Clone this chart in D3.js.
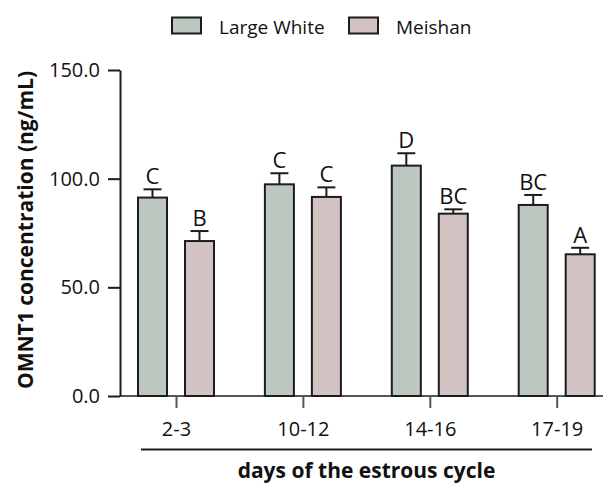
<!DOCTYPE html>
<html><head><meta charset="utf-8">
<script src="https://cdn.jsdelivr.net/npm/d3@7"></script>
<style>
html,body{margin:0;padding:0;background:#fff;}
svg{display:block;font-family:"Open Sans",sans-serif;}
</style></head>
<body>
<svg id="chart" width="606" height="483"></svg>
<script>
const categories = ["2-3", "10-12", "14-16", "17-19"];
const seriesNames = ["Large White", "Meishan"];
const largeWhite = [91.3, 97.4, 106.0, 87.9];
const largeWhiteErr = [3.8, 5.1, 5.7, 4.6];
const meishan = [71.3, 91.6, 83.9, 65.2];
const meishanErr = [4.6, 4.4, 2.0, 3.0];
const largeWhiteLetters = ["C", "C", "D", "BC"];
const meishanLetters = ["B", "C", "BC", "A"];
const yTicks = [0, 50, 100, 150];
const colors = {"Large White": "#bcc8bf", "Meishan": "#d3c2c2"};

const svg = d3.select("#chart");
const y = d3.scaleLinear().domain([0, 150]).range([396, 70]);
const x = d3.scalePoint().domain(categories).range([176, 556.7]);
const xs = d3.scaleBand().domain(seriesNames).range([-39, 39]).paddingInner(0.34);

const rows = [];
categories.forEach((c, i) => {
  rows.push({cat: c, s: "Large White", v: largeWhite[i], e: largeWhiteErr[i], l: largeWhiteLetters[i]});
  rows.push({cat: c, s: "Meishan", v: meishan[i], e: meishanErr[i], l: meishanLetters[i]});
});

// x baseline
svg.append("line").attr("x1", 120).attr("x2", 603).attr("y1", y(0)).attr("y2", y(0))
  .attr("stroke", "#555").attr("stroke-width", 2);

// bars
const g = svg.append("g");
const bw = xs.bandwidth();
g.selectAll("rect.bar").data(rows).join("rect").attr("class", "bar")
  .attr("x", d => x(d.cat) + xs(d.s) + 1)
  .attr("y", d => y(d.v))
  .attr("width", bw - 2)
  .attr("height", d => y(0) - y(d.v))
  .attr("fill", d => colors[d.s])
  .attr("stroke", "#1c1c1c").attr("stroke-width", 2);

// error bars
g.selectAll("line.err").data(rows).join("line").attr("class", "err")
  .attr("x1", d => x(d.cat) + xs(d.s) + bw / 2)
  .attr("x2", d => x(d.cat) + xs(d.s) + bw / 2)
  .attr("y1", d => y(d.v)).attr("y2", d => y(d.v + d.e))
  .attr("stroke", "#1c1c1c").attr("stroke-width", 2);
g.selectAll("line.cap").data(rows).join("line").attr("class", "cap")
  .attr("x1", d => x(d.cat) + xs(d.s) + bw / 2 - 9)
  .attr("x2", d => x(d.cat) + xs(d.s) + bw / 2 + 9)
  .attr("y1", d => y(d.v + d.e)).attr("y2", d => y(d.v + d.e))
  .attr("stroke", "#1c1c1c").attr("stroke-width", 2);
g.selectAll("text.sig").data(rows).join("text").attr("class", "sig")
  .attr("x", d => x(d.cat) + xs(d.s) + bw / 2)
  .attr("y", d => y(d.v + d.e) - 5)
  .attr("text-anchor", "middle").attr("font-size", 22).attr("fill", "#111")
  .text(d => d.l);

// y axis
const yAxis = svg.append("g").attr("transform", "translate(120,0)")
  .call(d3.axisLeft(y).tickValues(yTicks).tickFormat(d3.format(".1f")).tickSize(12).tickSizeOuter(0).tickPadding(8));
yAxis.select(".domain").attr("stroke", "#1c1c1c").attr("stroke-width", 2);
yAxis.selectAll(".tick line").attr("stroke", "#1c1c1c").attr("stroke-width", 2);
yAxis.selectAll(".tick text").attr("font-size", 20).attr("fill", "#111").attr("font-family", "Open Sans");

// x axis ticks
const xAxis = svg.append("g").attr("transform", `translate(0,${y(0)})`)
  .call(d3.axisBottom(x).tickSize(12).tickPadding(14));
xAxis.select(".domain").remove();
xAxis.selectAll(".tick line").attr("stroke", "#555").attr("stroke-width", 2);
xAxis.selectAll(".tick text").attr("font-size", 20).attr("fill", "#111").attr("font-family", "Open Sans");

// underline
svg.append("line").attr("x1", 141).attr("x2", 592).attr("y1", 449.5).attr("y2", 449.5)
  .attr("stroke", "#1c1c1c").attr("stroke-width", 2);

// axis titles
svg.append("text").attr("transform", "translate(25,230) rotate(-90)")
  .attr("text-anchor", "middle").attr("dominant-baseline", "central")
  .attr("font-size", 21).attr("font-weight", "bold").attr("fill", "#111")
  .text("OMNT1 concentration (ng/mL)");
svg.append("text").attr("x", 366.5).attr("y", 478)
  .attr("text-anchor", "middle").attr("font-size", 21).attr("font-weight", "bold").attr("fill", "#111")
  .text("days of the estrous cycle");

// legend
const legX = [172, 349];
const leg = svg.append("g");
seriesNames.forEach((s, i) => {
  leg.append("rect").attr("x", legX[i]).attr("y", 17.5).attr("width", 29).attr("height", 16)
    .attr("fill", colors[s]).attr("stroke", "#1c1c1c").attr("stroke-width", 2);
  leg.append("text").attr("x", legX[i] + 47).attr("y", 34).attr("font-size", 19).attr("fill", "#111")
    .text(s);
});
</script>
</body></html>
